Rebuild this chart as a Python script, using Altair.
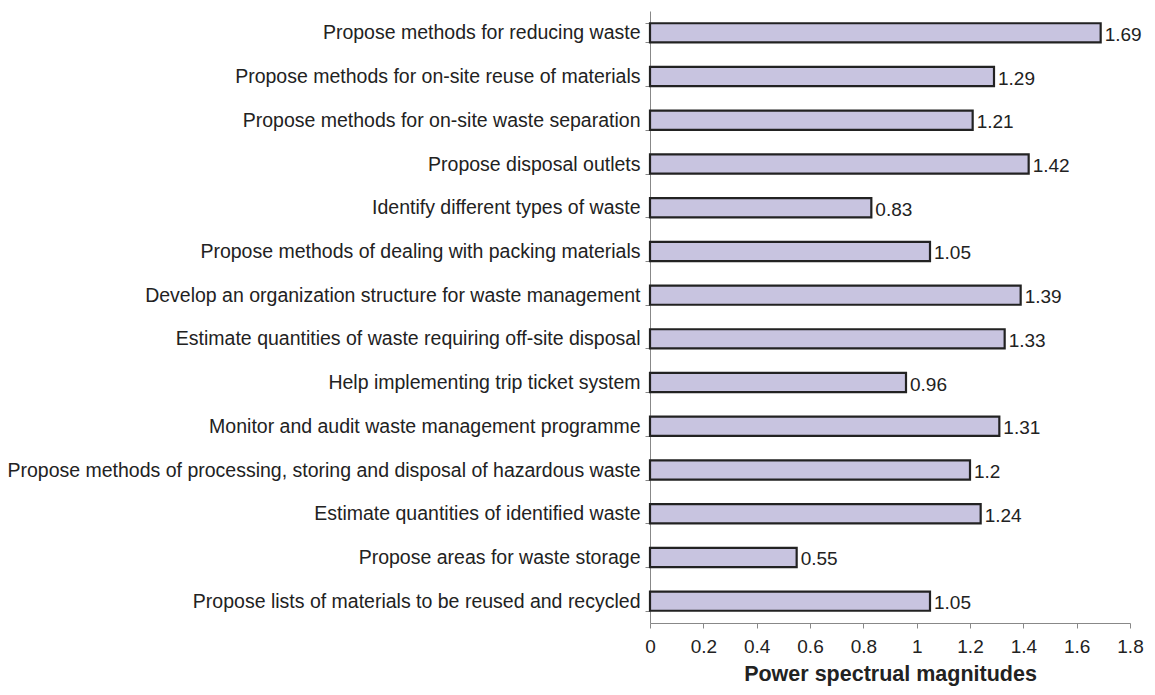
import altair as alt
import pandas as pd

categories = [
    "Propose methods for reducing waste",
    "Propose methods for on-site reuse of materials",
    "Propose methods for on-site waste separation",
    "Propose disposal outlets",
    "Identify different types of waste",
    "Propose methods of dealing with packing materials",
    "Develop an organization structure for waste management",
    "Estimate quantities of waste requiring off-site disposal",
    "Help implementing trip ticket system",
    "Monitor and audit waste management programme",
    "Propose methods of processing, storing and disposal of hazardous waste",
    "Estimate quantities of identified waste",
    "Propose areas for waste storage",
    "Propose lists of materials to be reused and recycled",
]
values = [1.69, 1.29, 1.21, 1.42, 0.83, 1.05, 1.39, 1.33, 0.96, 1.31, 1.2, 1.24, 0.55, 1.05]
value_labels = ["1.69", "1.29", "1.21", "1.42", "0.83", "1.05", "1.39", "1.33", "0.96", "1.31", "1.2", "1.24", "0.55", "1.05"]
x_ticks = [0, 0.2, 0.4, 0.6, 0.8, 1.0, 1.2, 1.4, 1.6, 1.8]

df = pd.DataFrame({"cat": categories, "val": values, "lab": value_labels})

FONT = "Liberation Sans"

y_enc = alt.Y(
    "cat:N",
    sort=categories,
    title=None,
    scale=alt.Scale(paddingInner=0.56, paddingOuter=0.28),
    axis=alt.Axis(
        tickBand="extent",
        tickSize=5,
        labelPadding=5,
        labelFontSize=19.5,
        labelFont=FONT,
        labelColor="#222222",
        labelLimit=700,
        domainColor="#888888",
        tickColor="#888888",
        grid=False,
    ),
)

x_enc = alt.X(
    "val:Q",
    scale=alt.Scale(domain=[0, 1.8], nice=False),
    title="Power spectrual magnitudes",
    axis=alt.Axis(
        values=x_ticks,
        format="~g",
        tickSize=5,
        labelPadding=9,
        labelFlush=False,
        labelOverlap=False,
        labelFontSize=19,
        labelFont=FONT,
        labelColor="#222222",
        titleFont=FONT,
        titleFontSize=21.5,
        titleFontWeight="bold",
        titleColor="#222222",
        titlePadding=7,
        domainColor="#888888",
        tickColor="#888888",
        grid=False,
    ),
)

bars = alt.Chart(df).mark_bar(
    color="#C8C4E0", stroke="#222222", strokeWidth=2.2
).encode(x=x_enc, y=y_enc)

texts = alt.Chart(df).mark_text(
    align="left", baseline="middle", dx=4, dy=2, fontSize=19, font=FONT, color="#222222"
).encode(
    x="val:Q",
    y=alt.Y("cat:N", sort=categories),
    text="lab:N",
)

chart = (
    (bars + texts)
    .properties(
        width=480,
        height=612,
        autosize=alt.AutoSizeParams(type="none"),
        padding={"left": 642, "top": 3, "right": 15, "bottom": 64},
    )
    .configure(background="white")
    .configure_view(strokeWidth=0, stroke=None)
    .configure_axis(grid=False)
)

chart.save("out.html", embed_options={"renderer": "svg", "actions": False})
